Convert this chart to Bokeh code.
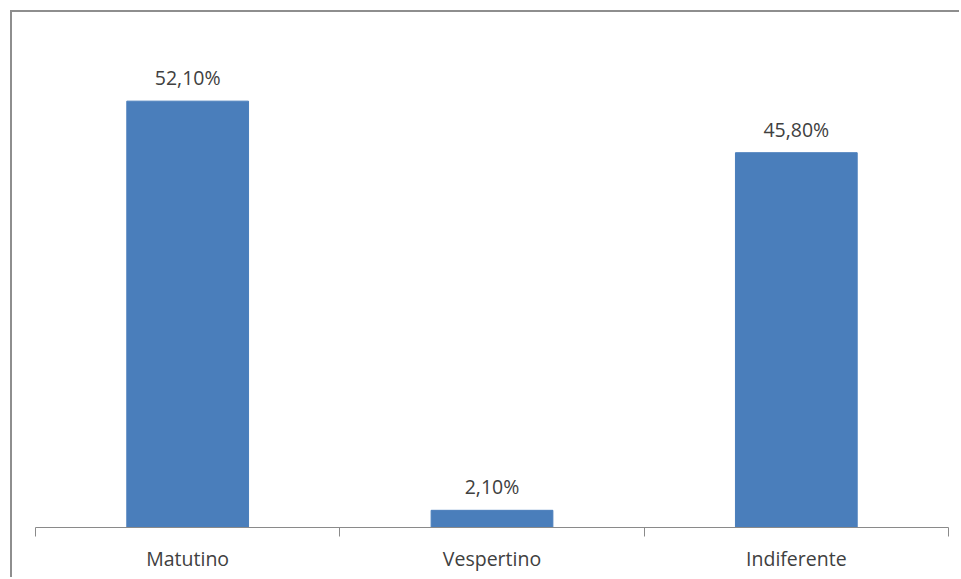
from bokeh.plotting import figure
from bokeh.models import ColumnDataSource, LabelSet, FixedTicker, Range1d
from bokeh.core.properties import value
from bokeh.embed import file_html
from bokeh.resources import INLINE

# Preferred shift for classes
categories = ["Matutino", "Vespertino", "Indiferente"]
percentages = [52.1, 2.1, 45.8]
value_labels = ["52,10%", "2,10%", "45,80%"]

BAR_COLOR = "#4A7EBB"
AXIS_COLOR = "#8A8A8A"
TEXT_COLOR = "#404040"
FONT = "Open Sans"
FONT_SIZE = "19.5px"

centers = [i + 0.5 for i in range(len(categories))]
boundaries = list(range(len(categories) + 1))
source = ColumnDataSource(dict(x=centers, top=percentages, label=value_labels))

p = figure(
    width=949, height=567,
    x_range=Range1d(0, len(categories)), y_range=Range1d(0, 60),
    output_backend="svg", toolbar_location=None,
    min_border_left=23, min_border_right=13, min_border_top=24, min_border_bottom=52,
)
p.styles = {
    "margin-left": "10px", "margin-top": "10px",
    "border-left": "2px solid #8E8E8E", "border-top": "2px solid #8E8E8E",
}
p.outline_line_color = None
p.xgrid.visible = False
p.ygrid.visible = False
p.yaxis.visible = False

p.vbar(x="x", top="top", bottom=0, width=0.4, color=BAR_COLOR, source=source)

p.add_layout(LabelSet(
    x="x", y="top", text="label", source=source,
    text_align="center", text_baseline="alphabetic", y_offset=16,
    text_font=value(FONT), text_font_size=FONT_SIZE, text_color=TEXT_COLOR,
))

# Category names under each bar; boundary ticks drawn as minor ticks
xaxis = p.xaxis[0]
xaxis.ticker = FixedTicker(ticks=centers, minor_ticks=boundaries)
xaxis.major_label_overrides = {c: name for c, name in zip(centers, categories)}
xaxis.axis_line_color = AXIS_COLOR
xaxis.major_tick_line_color = None
xaxis.major_tick_in = 0
xaxis.major_tick_out = 0
xaxis.minor_tick_line_color = AXIS_COLOR
xaxis.minor_tick_in = 0
xaxis.minor_tick_out = 9
xaxis.major_label_text_font = FONT
xaxis.major_label_text_font_size = FONT_SIZE
xaxis.major_label_text_color = TEXT_COLOR
xaxis.major_label_standoff = 8

open("out.html", "w").write(file_html(p, INLINE))
